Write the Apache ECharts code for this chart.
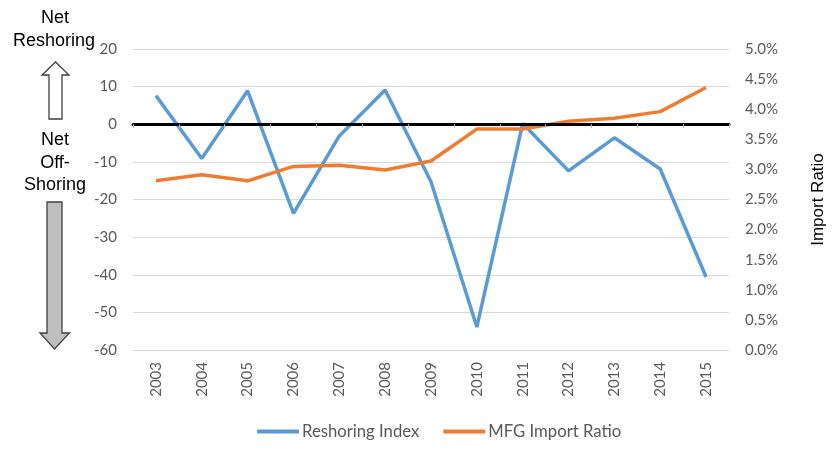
<!DOCTYPE html>
<html>
<head>
<meta charset="utf-8">
<script src="https://cdn.jsdelivr.net/npm/echarts@6/dist/echarts.min.js"></script>
<style>html,body{margin:0;padding:0;background:#fff}#c{width:840px;height:457px}</style>
</head>
<body>
<div id="c"></div>
<script>
const years = ['2003','2004','2005','2006','2007','2008','2009','2010','2011','2012','2013','2014','2015'];
const reshoringIndex = [7.6, -9.1, 8.9, -23.7, -3.1, 9.1, -15.3, -53.9, 0.2, -12.4, -3.6, -11.9, -40.6];
const mfgImportRatio = [2.81, 2.91, 2.81, 3.05, 3.07, 2.99, 3.14, 3.67, 3.67, 3.80, 3.85, 3.96, 4.36];
const leftTicks = {min: -60, max: 20, interval: 10};
const rightTicks = {min: 0, max: 5, interval: 0.5};

const chart = echarts.init(document.getElementById('c'));
const lblFont = 'Lato, "Open Sans", sans-serif';
const annFont = '"Liberation Sans", Arial, sans-serif';
const txt = (t, x, y) => ({type: 'text', style: {text: t, x: x, y: y, fontSize: 18, fontFamily: annFont, fill: '#000', textAlign: 'center', textVerticalAlign: 'middle'}});
chart.setOption({
  backgroundColor: '#ffffff',
  animation: false,
  grid: {left: 133, right: 111, top: 49, bottom: 107},
  legend: {
    top: 418, left: 252,
    icon: 'roundRect', itemWidth: 42, itemHeight: 4, itemGap: 24,
    textStyle: {color: '#595959', fontSize: 16.7, fontFamily: lblFont, padding: [0, 0, 0, -2]},
    data: ['Reshoring Index', 'MFG Import Ratio']
  },
  xAxis: [
    {
      type: 'category', data: years, boundaryGap: true,
      axisLine: {onZero: true, onZeroAxisIndex: 0, lineStyle: {color: '#000', width: 3}},
      axisTick: {show: true, length: 4, lineStyle: {color: '#bfbfbf'}},
      axisLabel: {show: false}, z: 5
    },
    {
      type: 'category', data: years, position: 'bottom',
      axisLine: {show: false}, axisTick: {show: false},
      axisLabel: {rotate: 90, color: '#595959', fontSize: 15, fontFamily: lblFont, margin: 12}
    }
  ],
  yAxis: [
    {
      type: 'value', min: leftTicks.min, max: leftTicks.max, interval: leftTicks.interval,
      axisLine: {show: false}, axisTick: {show: false},
      splitLine: {lineStyle: {color: '#d9d9d9', width: 1}},
      axisLabel: {color: '#595959', fontSize: 15, fontFamily: lblFont, margin: 16}
    },
    {
      type: 'value', min: rightTicks.min, max: rightTicks.max, interval: rightTicks.interval,
      position: 'right',
      axisLine: {show: false}, axisTick: {show: false}, splitLine: {show: false},
      axisLabel: {color: '#595959', fontSize: 15, fontFamily: lblFont, margin: 16,
        formatter: v => v.toFixed(1) + '%'},
      name: 'Import Ratio', nameLocation: 'middle', nameRotate: 90, nameGap: 81,
      nameTextStyle: {color: '#000', fontSize: 17, fontFamily: annFont}
    }
  ],
  series: [
    {
      name: 'Reshoring Index', type: 'line', data: reshoringIndex,
      xAxisIndex: 0, yAxisIndex: 0, showSymbol: false, symbol: 'none',
      lineStyle: {color: '#5b9bd5', width: 3.5}, itemStyle: {color: '#5b9bd5'}, z: 3
    },
    {
      name: 'MFG Import Ratio', type: 'line', data: mfgImportRatio,
      xAxisIndex: 0, yAxisIndex: 1, showSymbol: false, symbol: 'none',
      lineStyle: {color: '#ed7d31', width: 3.5}, itemStyle: {color: '#ed7d31'}, z: 3
    }
  ],
  graphic: [
    txt('Net', 55, 18), txt('Reshoring', 54, 41),
    txt('Net', 55, 140), txt('Off-', 55, 163), txt('Shoring', 55, 185),
    {type: 'polygon', shape: {points: [[49,119],[62,119],[62,75],[69,75],[55.5,62],[42,75],[49,75]]},
      style: {fill: '#ffffff', stroke: '#404040', lineWidth: 1.3}},
    {type: 'polygon', shape: {points: [[47,202],[62,202],[62,333],[69.5,333],[54.5,349],[40,333],[47,333]]},
      style: {fill: '#bfbfbf', stroke: '#404040', lineWidth: 1.3}}
  ]
});
</script>
</body>
</html>
